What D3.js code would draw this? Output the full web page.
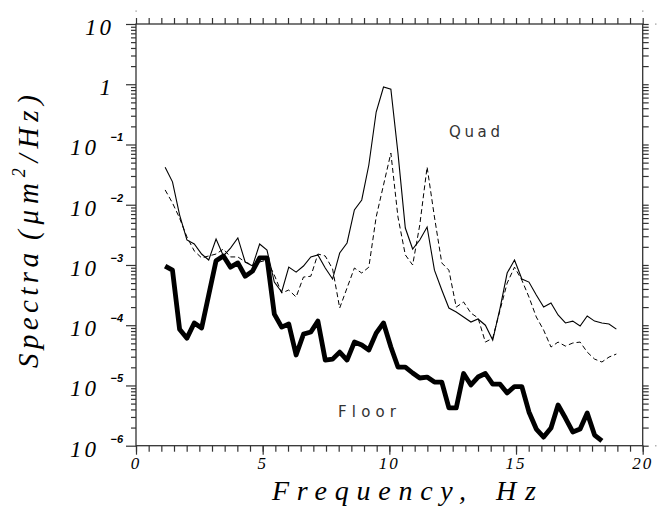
<!DOCTYPE html>
<html>
<head>
<meta charset="utf-8">
<script src="https://cdn.jsdelivr.net/npm/d3@7"></script>
<style>
  body { margin: 0; background: #fff; }
  svg { display: block; }
  .frame { fill: none; stroke: #333; stroke-width: 1.3; }
  .tick line { stroke: #333; stroke-width: 1.2; }
  .domain { display: none; }
</style>
</head>
<body>
<script>
// spectra, frequency grid in Hz

var freq = [1.15, 1.44, 1.72, 2.01, 2.30, 2.59, 2.87, 3.16, 3.45, 3.73,
  4.02, 4.31, 4.60, 4.88, 5.17, 5.46, 5.75, 6.03, 6.32, 6.61,
  6.90, 7.18, 7.47, 7.76, 8.04, 8.33, 8.62, 8.91, 9.19, 9.48,
  9.77, 10.06, 10.34, 10.63, 10.92, 11.20, 11.49, 11.78, 12.07, 12.35,
  12.64, 12.93, 13.22, 13.50, 13.79, 14.08, 14.37, 14.65, 14.94, 15.23,
  15.51, 15.80, 16.09, 16.38, 16.66, 16.95, 17.24, 17.53, 17.81, 18.10,
  18.39, 18.67, 18.96]

var quadSolid = [4.2e-2, 2.4e-2, 6.8e-3, 2.6e-3, 2.23e-3, 1.52e-3, 1.21e-3, 2.7e-3, 1.41e-3, 1.91e-3,
  2.81e-3, 1.12e-3, 9.6e-4, 2.23e-3, 1.77e-3, 5.2e-4, 3.56e-4, 9.2e-4, 7.6e-4, 9.6e-4,
  1.36e-3, 1.47e-3, 8.9e-4, 5.84e-4, 1.58e-3, 2.32e-3, 8.2e-3, 1.2e-2, 4.56e-2, 3.46e-1,
  9.0e-1, 8.3e-1, 7.2e-2, 4.1e-3, 1.84e-3, 2.6e-3, 4.27e-3, 8.2e-4, 3.84e-4, 1.93e-4,
  1.66e-4, 1.37e-4, 1.13e-4, 1.27e-4, 1.0e-4, 5.67e-5, 1.93e-4, 7.35e-4, 1.21e-3, 5.84e-4,
  5.2e-4, 3.17e-4, 2.0e-4, 2.34e-4, 1.48e-4, 1.09e-4, 1.17e-4, 9.7e-5, 1.42e-4, 1.17e-4,
  1.09e-4, 1.05e-4, 8.6e-5]

var quadDashed = [1.76e-2, 1.07e-2, 6.0e-3, 2.92e-3, 1.71e-3, 1.31e-3, 1.41e-3, 1.52e-3, 1.84e-3, 1.36e-3,
  1.36e-3, 1.12e-3, 1.0e-3, 1.12e-3, 1.21e-3, 6.8e-4, 3.42e-4, 3.84e-4, 2.94e-4, 6.3e-4,
  6.5e-4, 1.52e-3, 1.41e-3, 8.6e-4, 1.93e-4, 4.15e-4, 8.9e-4, 7.35e-4, 9.2e-4, 6.26e-3,
  2.13e-2, 7.2e-2, 6.26e-3, 1.47e-3, 1.0e-3, 4.6e-3, 4.23e-2, 6.26e-3, 1.08e-3, 8.2e-4,
  2.0e-4, 2.43e-4, 1.59e-4, 1.32e-4, 5.25e-5, 6.1e-5, 1.79e-4, 5.0e-4, 9.2e-4, 5.6e-4,
  2.94e-4, 1.37e-4, 8.3e-5, 4.34e-5, 5.25e-5, 4.5e-5, 5.06e-5, 5.25e-5, 3.58e-5, 2.74e-5,
  2.45e-5, 2.96e-5, 3.32e-5]

var floor = [9.6e-4, 8.2e-4, 8.6e-5, 6.1e-5, 1.09e-4, 9.0e-5, 3.17e-4, 1.17e-3, 1.41e-3, 9.2e-4,
  1.08e-3, 6.5e-4, 7.9e-4, 1.31e-3, 1.31e-3, 1.53e-4, 9.3e-5, 1.05e-4, 3.2e-5, 7.1e-5,
  7.7e-5, 1.17e-4, 2.64e-5, 2.74e-5, 3.58e-5, 2.64e-5, 5.25e-5, 4.68e-5, 3.87e-5, 7.4e-5,
  1.09e-4, 4.34e-5, 2.02e-5, 2.02e-5, 1.61e-5, 1.33e-5, 1.38e-5, 1.14e-5, 1.14e-5, 4.23e-6,
  4.23e-6, 1.58e-5, 1.02e-5, 1.38e-5, 1.58e-5, 1.05e-5, 1.05e-5, 7.5e-6, 9.6e-6, 9.6e-6,
  3.63e-6, 1.89e-6, 1.39e-6, 1.97e-6, 4.74e-6, 2.88e-6, 1.69e-6, 1.89e-6, 3.49e-6, 1.5e-6,
  1.2e-6]

var xTickLabels = [0, 5, 10, 15, 20]
var yDecades = [10, 1, 1e-1, 1e-2, 1e-3, 1e-4, 1e-5, 1e-6]
var yBase = ['10', '1', '10', '10', '10', '10', '10', '10']
var yExp = ['', '', '\u22121', '\u22122', '\u22123', '\u22124', '\u22125', '\u22126']

// page setup
// (plotTop etc, because window.top can't be overwritten)

var W = 661, H = 508
var plotLeft = 136, plotRight = 642.7, plotTop = 24, plotBottom = 445.7

var svg = d3.select('body').append('svg')
  .attr('width', W)
  .attr('height', H)

var x = d3.scaleLinear().domain([0, 20]).range([plotLeft, plotRight])
var y = d3.scaleLog().domain([1e-6, 10]).range([plotBottom, plotTop])

// minor log ticks 2..9 in every decade
var yMinor = []
yDecades.slice(1).forEach(function(d) {
  for (var m = 2; m <= 9; m++) yMinor.push(d * m)
})

var xMinor = d3.range(0, 20.01, 0.5)

// axes, all ticks point outward

svg.append('g')
  .attr('transform', `translate(0, ${plotBottom})`)
  .call(d3.axisBottom(x).tickValues(xMinor).tickSize(6).tickFormat(''))
svg.append('g')
  .attr('transform', `translate(0, ${plotBottom})`)
  .call(d3.axisBottom(x).tickValues(xTickLabels).tickSize(9).tickFormat(''))
svg.append('g')
  .attr('transform', `translate(0, ${plotTop})`)
  .call(d3.axisTop(x).tickValues(xMinor).tickSize(6).tickFormat(''))

svg.append('g')
  .attr('transform', `translate(${plotLeft}, 0)`)
  .call(d3.axisLeft(y).tickValues(yMinor).tickSize(5).tickFormat(''))
svg.append('g')
  .attr('transform', `translate(${plotLeft}, 0)`)
  .call(d3.axisLeft(y).tickValues(yDecades).tickSize(10).tickFormat(''))
svg.append('g')
  .attr('transform', `translate(${plotRight}, 0)`)
  .call(d3.axisRight(y).tickValues(yMinor.concat(yDecades)).tickSize(6).tickFormat(''))

svg.append('rect')
  .attr('class', 'frame')
  .attr('x', plotLeft)
  .attr('y', plotTop)
  .attr('width', plotRight - plotLeft)
  .attr('height', plotBottom - plotTop)

// little end marks past the axes
var ends = [[plotLeft, 11], [plotRight, 11], [plotRight + 13, plotTop], [plotRight + 13, plotBottom]]
svg.selectAll('.endmark')
  .data(ends)
  .enter().append('rect')
  .attr('class', 'endmark')
  .attr('x', function(d) { return d[0] - 0.5 })
  .attr('y', function(d) { return d[1] - 0.5 })
  .attr('width', 1.2)
  .attr('height', 1.2)
  .style('fill', '#888')

// tick labels

svg.selectAll('.xlabel')
  .data(xTickLabels)
  .enter().append('text')
  .attr('class', 'xlabel')
  .attr('x', function(d) { return x(d) })
  .attr('y', 469)
  .attr('text-anchor', 'middle')
  .style('font-family', 'Liberation Serif')
  .style('font-style', 'italic')
  .style('font-size', '17px')
  .style('letter-spacing', '2px')
  .text(function(d) { return d })

var yl = svg.selectAll('.ylabel')
  .data(yDecades)
  .enter().append('g')
  .attr('class', 'ylabel')
  .attr('transform', function(d) { return `translate(0, ${y(d)})` })

yl.append('text')
  .attr('x', function(d, i) { return yExp[i] ? 99 : 114 })
  .attr('y', 11)
  .attr('text-anchor', 'end')
  .style('font-family', 'Liberation Serif')
  .style('font-style', 'italic')
  .style('font-size', '23px')
  .style('letter-spacing', '3px')
  .text(function(d, i) { return yBase[i] })

yl.append('text')
  .attr('x', 123)
  .attr('y', -3)
  .attr('text-anchor', 'end')
  .style('font-family', 'Liberation Sans')
  .style('font-style', 'italic')
  .style('font-weight', 'bold')
  .style('font-size', '11px')
  .text(function(d, i) { return yExp[i] })

// axis titles

var titleFont = function(sel, size) {
  sel.style('font-family', 'Liberation Serif')
    .style('font-style', 'italic')
    .style('font-size', size + 'px')
    .attr('lengthAdjust', 'spacing')
}

svg.append('text')
  .attr('x', 272)
  .attr('y', 500)
  .attr('textLength', 194)
  .call(titleFont, 28)
  .text('Frequency,')

svg.append('text')
  .attr('x', 496)
  .attr('y', 500)
  .attr('textLength', 40)
  .call(titleFont, 28)
  .text('Hz')

svg.append('text')
  .attr('transform', 'translate(38, 368) rotate(-90)')
  .attr('textLength', 115)
  .call(titleFont, 29)
  .text('Spectra')

var yt = svg.append('text')
  .attr('transform', 'translate(38, 240) rotate(-90)')
  .attr('textLength', 145)
  .call(titleFont, 29)
yt.append('tspan').text('(\u03bcm')
yt.append('tspan').attr('dy', -13).style('font-size', '18px').text('2')
yt.append('tspan').attr('dy', 13).text('/Hz)')

// spectra lines

var line = d3.line()
  .x(function(d) { return x(d[0]) })
  .y(function(d) { return y(d[1]) })

svg.append('path')
  .datum(d3.zip(freq, quadDashed))
  .attr('d', line)
  .style('fill', 'none')
  .style('stroke', '#000')
  .style('stroke-width', 1)
  .style('stroke-dasharray', '5,3')

svg.append('path')
  .datum(d3.zip(freq, quadSolid))
  .attr('d', line)
  .style('fill', 'none')
  .style('stroke', '#000')
  .style('stroke-width', 1.1)

svg.append('path')
  .datum(d3.zip(freq.slice(0, floor.length), floor))
  .attr('d', line)
  .style('fill', 'none')
  .style('stroke', '#000')
  .style('stroke-width', 4.8)
  .style('stroke-linejoin', 'round')

// series labels

svg.append('text')
  .attr('x', 449)
  .attr('y', 137)
  .attr('textLength', 51)
  .style('font-family', 'DejaVu Sans')
  .style('font-size', '15px')
  .style('fill', '#333')
  .text('Quad')

svg.append('text')
  .attr('x', 338)
  .attr('y', 417)
  .attr('textLength', 58)
  .style('font-family', 'DejaVu Sans')
  .style('font-size', '15px')
  .style('fill', '#333')
  .text('Floor')
</script>
</body>
</html>
